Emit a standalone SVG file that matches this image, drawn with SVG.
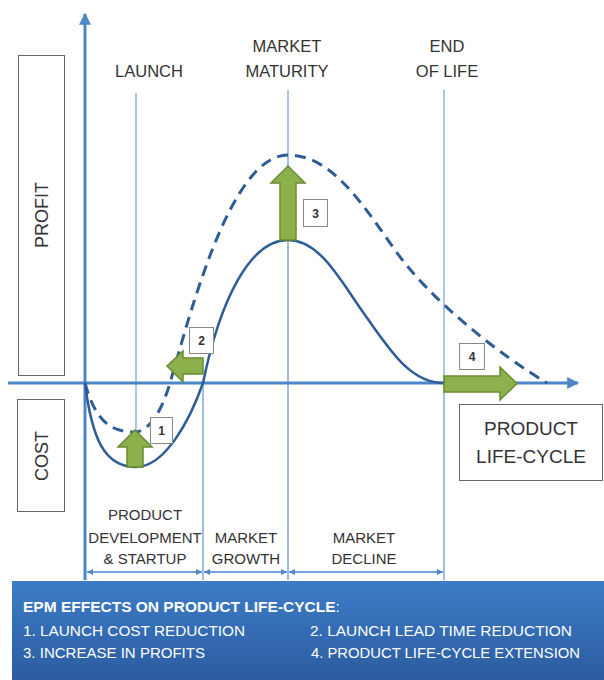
<svg xmlns="http://www.w3.org/2000/svg" width="604" height="680" viewBox="0 0 604 680">
<defs>
<style>
.t{font-family:"Liberation Sans",Arial,sans-serif;fill:#333;text-anchor:middle}
.guide{stroke:#8fb4e0;stroke-width:1.5;fill:none}
.phase{stroke:#7ea8da;stroke-width:1.5;fill:none}
.axis{stroke:#4a86c8;stroke-width:3;fill:none}
.curve{stroke:#2e5c96;stroke-width:2.5;fill:none}
.dash{stroke:#2e5c96;stroke-width:3;fill:none;stroke-dasharray:11 7}
.green{fill:#8cb04c;stroke:#6a8c30;stroke-width:1.5}
.lbox{fill:#fff;stroke:#888;stroke-width:1}
.lnum{font-family:"Liberation Sans",Arial,sans-serif;font-weight:bold;font-size:12px;fill:#333;text-anchor:middle}
.box{fill:#fff;stroke:#666;stroke-width:1}
.w{font-family:"Liberation Sans",Arial,sans-serif;fill:#fff;font-size:15.5px}
.dim{stroke:#4a86c8;stroke-width:1.5;fill:none}
</style>
<marker id="ah" viewBox="0 0 10 10" refX="9" refY="5" markerWidth="4" markerHeight="4" orient="auto-start-reverse"><path d="M0,0 L10,5 L0,10 z" fill="#4a86c8"/></marker>
<marker id="dh" viewBox="0 0 10 10" refX="10" refY="5" markerWidth="6" markerHeight="6" orient="auto-start-reverse" markerUnits="userSpaceOnUse"><path d="M0,0 L10,5 L0,10 z" fill="#4a86c8"/></marker>
<linearGradient id="bg" x1="0" y1="0" x2="0" y2="1"><stop offset="0" stop-color="#3c7cc8"/><stop offset="1" stop-color="#2c5c9f"/></linearGradient>
</defs>

<g id="profit-box"><rect class="box" x="18.5" y="55.5" width="46" height="320"/><text class="t" font-size="18" transform="translate(48,215) rotate(-90)">PROFIT</text></g>
<g id="cost-box"><rect class="box" x="17.5" y="399.5" width="47" height="112"/><text class="t" font-size="18" transform="translate(48,456) rotate(-90)">COST</text></g>

<g id="guides">
<line class="guide" x1="136" y1="93" x2="136" y2="432"/>
<line class="guide" x1="288" y1="90" x2="288" y2="155"/>
<line class="phase" x1="288" y1="155" x2="288" y2="580"/>
<line class="guide" x1="444" y1="90" x2="444" y2="383"/>
<line class="phase" x1="444" y1="383" x2="444" y2="580"/>
<line class="phase" x1="203" y1="383" x2="203" y2="580"/>
</g>

<g id="connectors">
<line class="axis" x1="85" y1="580" x2="85" y2="14" marker-end="url(#ah)"/>
<line class="axis" x1="8" y1="383" x2="578" y2="383" marker-end="url(#ah)"/>
<path class="curve" d="M85,383 C92,440 105,467 136,467 C165,467 190,420 203,383 C220,300 250,240 288,240 C320,240 340,280 365,315 C390,350 410,383 444,383"/>
<path class="dash" d="M85,383 C95,420 110,432 134,432 C150,432 162,410 170,383 C190,315 230,155 288,155 C330,155 360,200 395,250 C430,300 500,355 547,383"/>
<line class="dim" x1="87" y1="572" x2="202" y2="572" marker-start="url(#dh)" marker-end="url(#dh)"/>
<line class="dim" x1="204" y1="572" x2="287" y2="572" marker-start="url(#dh)" marker-end="url(#dh)"/>
<line class="dim" x1="289" y1="572" x2="443" y2="572" marker-start="url(#dh)" marker-end="url(#dh)"/>
</g>

<g id="arrow1"><path class="green" d="M127,467 L127,447 L118,447 L135,430 L152,447 L143,447 L143,467 Z"/><rect class="lbox" x="150.5" y="417.5" width="22" height="26"/><text class="lnum" x="161.5" y="435">1</text></g>
<g id="arrow2"><path class="green" d="M203,358 L183,358 L183,351 L167,366 L183,382 L183,374 L203,374 Z"/><rect class="lbox" x="189.5" y="327.5" width="24" height="26"/><text class="lnum" x="201.5" y="345">2</text></g>
<g id="arrow3"><path class="green" d="M280,240 L280,183 L271,183 L288,166 L305,183 L296,183 L296,240 Z"/><rect class="lbox" x="303.5" y="199.5" width="24" height="27"/><text class="lnum" x="315.5" y="217.5">3</text></g>
<g id="arrow4"><path class="green" d="M444,376 L500,376 L500,367 L517,383.5 L500,400 L500,392 L444,392 Z"/><rect class="lbox" x="459.5" y="343.5" width="25" height="26"/><text class="lnum" x="472" y="361">4</text></g>

<g id="top-labels">
<text class="t" font-size="16.5" x="149" y="77">LAUNCH</text>
<text class="t" font-size="16.5" x="287" y="52">MARKET</text>
<text class="t" font-size="16.5" x="287" y="77">MATURITY</text>
<text class="t" font-size="16.5" x="447" y="52">END</text>
<text class="t" font-size="16.5" x="447" y="77">OF LIFE</text>
</g>

<g id="plc-box"><rect class="box" x="459.5" y="404.5" width="143" height="76"/><text class="t" font-size="19" x="531" y="435">PRODUCT</text><text class="t" font-size="19" x="531" y="463">LIFE-CYCLE</text></g>

<g id="phase-labels">
<text class="t" font-size="15" x="145" y="520">PRODUCT</text>
<text class="t" font-size="15" x="145" y="543">DEVELOPMENT</text>
<text class="t" font-size="15" x="145" y="564">&amp; STARTUP</text>
<text class="t" font-size="15" x="246" y="543">MARKET</text>
<text class="t" font-size="15" x="246" y="564">GROWTH</text>
<text class="t" font-size="15" x="364" y="543">MARKET</text>
<text class="t" font-size="15" x="364" y="564">DECLINE</text>
</g>

<g id="legend">
<rect x="12" y="581" width="592" height="99" fill="url(#bg)"/>
<text class="w" x="23" y="612" font-size="14.8" font-weight="bold">EPM EFFECTS ON PRODUCT LIFE-CYCLE<tspan font-weight="normal">:</tspan></text>
<text class="w" x="23" y="636" textLength="222" lengthAdjust="spacingAndGlyphs">1. LAUNCH COST REDUCTION</text>
<text class="w" x="310" y="636" textLength="262" lengthAdjust="spacingAndGlyphs">2. LAUNCH LEAD TIME REDUCTION</text>
<text class="w" x="23" y="658" textLength="182" lengthAdjust="spacingAndGlyphs">3. INCREASE IN PROFITS</text>
<text class="w" x="311" y="658" textLength="269" lengthAdjust="spacingAndGlyphs">4. PRODUCT LIFE-CYCLE EXTENSION</text>
</g>
</svg>
